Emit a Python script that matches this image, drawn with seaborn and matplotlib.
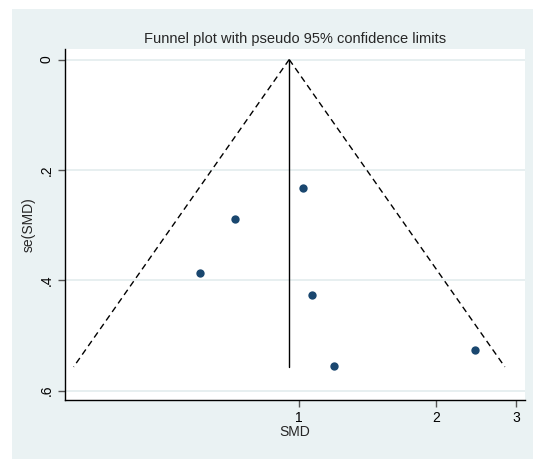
import numpy as np
import pandas as pd
import matplotlib
matplotlib.use("Agg")
import matplotlib.pyplot as plt
from matplotlib.patches import Rectangle
import seaborn as sns

# Study estimates (SMD on log axis, standard error)
smd = [1.022, 0.724, 0.606, 1.070, 1.192, 2.441]
se = [0.233, 0.289, 0.386, 0.426, 0.556, 0.526]
pooled = 0.951
se_max = 0.557
x_ticks = [1, 2, 3]
y_ticks = [0, 0.2, 0.4, 0.6]
y_tick_labels = ["0", ".2", ".4", ".6"]

BG = '#EAF2F3'
NAVY = '#1A476F'

sns.set_theme(style='white')
plt.rcParams['font.family'] = ['Liberation Sans', 'DejaVu Sans']

df = pd.DataFrame({'smd': smd, 'se': se})

fig = plt.figure(figsize=(5.33, 4.59), dpi=100, facecolor='white')
# graph region (light blue) with thin white margin top/left
fig.patches.append(Rectangle((12 / 533, 0), 1, 1 - 9 / 459,
                             transform=fig.transFigure, facecolor=BG,
                             edgecolor='none', zorder=-1))

ax = fig.add_axes([0.1212, 0.1285, 0.8638, 0.7656])
ax.set_facecolor('white')

for y in y_ticks:
    ax.axhline(y, color='#E3ECEE', lw=1.2, zorder=0)

# pseudo 95% limits
s = np.array([0, se_max])
ax.plot(pooled * np.exp(-1.96 * s), s, color='black', lw=1, dashes=(4.5, 3))
ax.plot(pooled * np.exp(1.96 * s), s, color='black', lw=1, dashes=(4.5, 3))
ax.plot([pooled, pooled], s, color='black', lw=1)

sns.scatterplot(data=df, x='smd', y='se', ax=ax, color=NAVY, s=36,
                edgecolor=NAVY, linewidth=0, zorder=3)

ax.set_xscale('log')
ax.set_xlim(0.305, 3.138)
ax.set_ylim(0.617, -0.0198)
ax.set_xticks(x_ticks)
ax.set_xticklabels([str(t) for t in x_ticks])
ax.minorticks_off()
ax.set_yticks(y_ticks)
ax.set_yticklabels(y_tick_labels, rotation=90, va='center')

for side in ['top', 'right']:
    ax.spines[side].set_visible(False)
for side in ['left', 'bottom']:
    ax.spines[side].set_color('black')
    ax.spines[side].set_linewidth(1)

ax.tick_params(axis='both', direction='out', length=5, width=1, color='#555555',
               labelsize=10, labelcolor='black', bottom=True, left=True, pad=3)

ax.set_xlabel('SMD', fontsize=10, labelpad=0)
ax.set_ylabel('se(SMD)', fontsize=10, labelpad=3)
ax.set_title('Funnel plot with pseudo 95% confidence limits', fontsize=10.5, pad=4)

fig.savefig('out.png', dpi=100, facecolor='white')
